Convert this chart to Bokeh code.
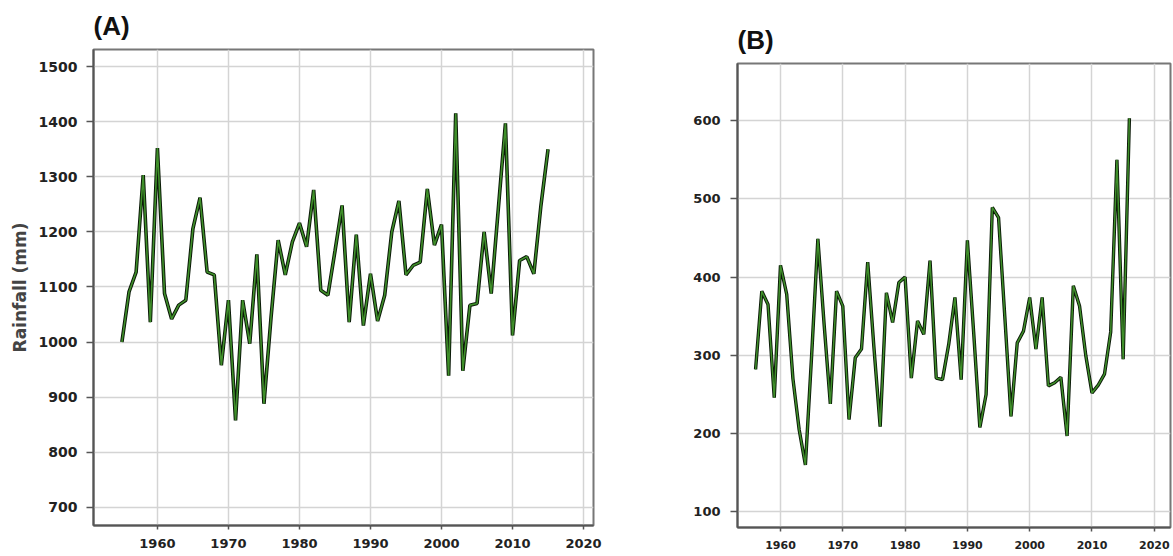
from bokeh.plotting import figure
from bokeh.layouts import row, column
from bokeh.models import FixedTicker, Range1d, ColumnDataSource
from bokeh.embed import file_html
from bokeh.resources import INLINE

# ---- Data ----
years_a = list(range(1955, 2016))
rain_a = [1000, 1091, 1127, 1303, 1036, 1352, 1088, 1042, 1067, 1076,
          1206, 1262, 1127, 1122, 958, 1076, 858, 1076, 997, 1159,
          888, 1045, 1185, 1122, 1182, 1216, 1173, 1276, 1094, 1085,
          1165, 1248, 1036, 1195, 1030, 1124, 1038, 1085, 1200, 1256,
          1122, 1139, 1145, 1278, 1176, 1213, 939, 1415, 948, 1067,
          1070, 1200, 1088, 1242, 1397, 1012, 1148, 1155, 1124, 1248,
          1350]

years_b = list(range(1956, 2017))
rain_b = [282, 382, 365, 246, 415, 378, 270, 205, 160, 300,
          449, 340, 238, 382, 363, 218, 297, 308, 419, 310,
          209, 380, 342, 393, 400, 271, 344, 327, 421, 271,
          269, 314, 374, 269, 447, 330, 208, 250, 489, 476,
          350, 222, 316, 331, 374, 308, 374, 261, 265, 272,
          197, 389, 363, 300, 252, 262, 276, 330, 550, 295,
          603]

x_ticks = [1960, 1970, 1980, 1990, 2000, 2010, 2020]
y_ticks_a = [700, 800, 900, 1000, 1100, 1200, 1300, 1400, 1500]
y_ticks_b = [100, 200, 300, 400, 500, 600]

TITLE_FONT = "Liberation Sans"
TICK_FONT = "DejaVu Sans"


def style(p, yticks, ylabel_size, xlabel_size):
    p.xaxis.ticker = FixedTicker(ticks=x_ticks)
    p.yaxis.ticker = FixedTicker(ticks=yticks)
    p.xgrid.ticker = FixedTicker(ticks=x_ticks)
    p.ygrid.ticker = FixedTicker(ticks=yticks)
    for ax in (p.xaxis[0], p.yaxis[0]):
        ax.axis_line_color = "#555555"
        ax.axis_line_width = 2
        ax.major_tick_line_color = "#555555"
        ax.major_tick_line_width = 1.5
        ax.major_tick_in = 0
        ax.minor_tick_line_color = None
        ax.major_label_text_font = TICK_FONT
        ax.major_label_text_font_style = "bold"
        ax.major_label_text_color = "#222222"
    p.yaxis.major_tick_out = 7
    p.yaxis.major_label_standoff = 9
    p.yaxis.major_label_text_font_size = ylabel_size
    p.xaxis.major_tick_out = 4
    p.xaxis.major_label_standoff = 9
    p.xaxis.major_label_text_font_size = xlabel_size
    p.grid.grid_line_color = "#d4d4d4"
    p.grid.grid_line_width = 1.5
    p.outline_line_color = "#777777"
    p.outline_line_width = 2
    p.background_fill_color = "white"
    p.border_fill_color = "white"
    p.title.text_font = TITLE_FONT
    p.title.text_font_style = "bold"
    p.title.text_font_size = "26px"
    p.title.text_color = "#111111"
    p.title.align = "left"
    p.title.offset = 0
    p.title.standoff = 17


# ---- Panel A ----
pa = figure(width=628, height=554, output_backend="svg", toolbar_location=None,
            x_range=Range1d(1951.0, 2021.4), y_range=Range1d(667, 1531),
            title="(A)", min_border_left=93, min_border_right=35,
            min_border_top=48, min_border_bottom=29)
style(pa, y_ticks_a, "14px", "13px")
pa.yaxis.axis_label = "Rainfall (mm)"
pa.yaxis.axis_label_text_font = TICK_FONT
pa.yaxis.axis_label_text_font_style = "bold"
pa.yaxis.axis_label_text_font_size = "17px"
pa.yaxis.axis_label_text_color = "#444444"
pa.yaxis.axis_label_standoff = 6

src_a = ColumnDataSource(dict(x=years_a, y=rain_a))
pa.line("x", "y", source=src_a, line_color="#0b1a08", line_width=3.6)
pa.line("x", "y", source=src_a, line_color="#3f8f2a", line_width=1.6)

# ---- Panel B ----
pb = figure(width=545, height=554, output_backend="svg", toolbar_location=None,
            x_range=Range1d(1953.1, 2022.6), y_range=Range1d(80, 673),
            title="(B)", min_border_left=109, min_border_right=3,
            min_border_top=63, min_border_bottom=27)
style(pb, y_ticks_b, "13px", "11px")
pb.yaxis.major_label_standoff = 10

src_b = ColumnDataSource(dict(x=years_b, y=rain_b))
pb.line("x", "y", source=src_b, line_color="#0b1a08", line_width=3.4)
pb.line("x", "y", source=src_b, line_color="#3f8f2a", line_width=1.5)

layout = row(column(pa), column(pb))
open("out.html", "w").write(file_html(layout, INLINE))
